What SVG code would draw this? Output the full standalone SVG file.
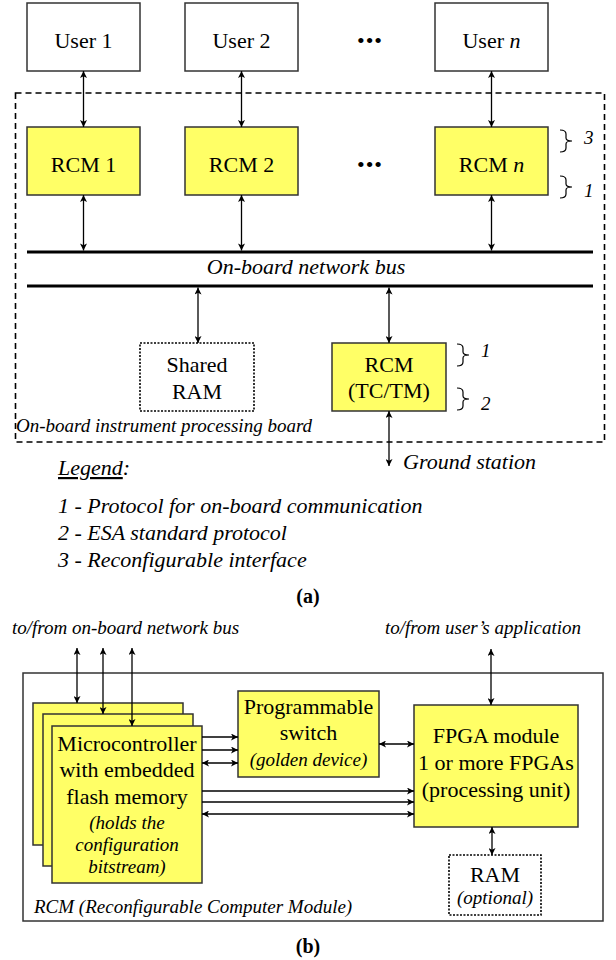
<svg xmlns="http://www.w3.org/2000/svg" width="616" height="960" viewBox="0 0 616 960">
<defs>
<marker id="ah" viewBox="0 0 10 10" refX="10" refY="5" markerWidth="8" markerHeight="7" markerUnits="userSpaceOnUse" orient="auto-start-reverse">
<path d="M0,0 L10,5 L0,10 L2.5,5 z" fill="#000"/>
</marker>
<style>
text{font-family:"Liberation Serif","Times New Roman",serif;fill:#000}
.t{font-size:22px;text-anchor:middle}
.i{font-size:19px;font-style:italic}
.ic{font-size:19px;font-style:italic;text-anchor:middle}
.w{fill:#fff;stroke:#333;stroke-width:1.5}
.y{fill:#ffff66;stroke:#333;stroke-width:1.5}
.dot{fill:#fff;stroke:#000;stroke-width:1.6;stroke-dasharray:2 1.5}
.c line{stroke:#000;stroke-width:1.3}
.bi{marker-start:url(#ah);marker-end:url(#ah)}
.one{marker-end:url(#ah)}
.br{fill:none;stroke:#000;stroke-width:1.2}
</style>
</defs>

<!-- Part (a) -->
<rect id="board" x="15.5" y="93" width="589" height="349" fill="none" stroke="#000" stroke-width="1.6" stroke-dasharray="6 4"/>

<g id="user1"><rect class="w" x="27" y="3" width="113" height="68"/><text class="t" x="83.5" y="48">User 1</text></g>
<g id="user2"><rect class="w" x="185" y="3" width="113" height="68"/><text class="t" x="241.5" y="48">User 2</text></g>
<g id="dots1"><text class="t" x="370" y="48" letter-spacing="1">•••</text></g>
<g id="usern"><rect class="w" x="435" y="3" width="113" height="68"/><text class="t" x="491.5" y="48">User <tspan font-style="italic">n</tspan></text></g>

<g id="rcm1"><rect class="y" x="27" y="127" width="113" height="68"/><text class="t" x="83.5" y="172">RCM 1</text></g>
<g id="rcm2"><rect class="y" x="185" y="127" width="113" height="68"/><text class="t" x="241.5" y="172">RCM 2</text></g>
<g id="dots2"><text class="t" x="370" y="172" letter-spacing="1">•••</text></g>
<g id="rcmn"><rect class="y" x="435" y="127" width="113" height="68"/><text class="t" x="491.5" y="172">RCM <tspan font-style="italic">n</tspan></text></g>

<g id="bus">
<line x1="27" y1="252" x2="593" y2="252" stroke="#000" stroke-width="3"/>
<line x1="27" y1="286" x2="593" y2="286" stroke="#000" stroke-width="3"/>
<text x="306" y="274" font-size="22" font-style="italic" text-anchor="middle">On-board network bus</text>
</g>

<g id="sharedram"><rect class="dot" x="140" y="343" width="114" height="68"/><text class="t" x="197" y="372">Shared</text><text class="t" x="197" y="399">RAM</text></g>
<g id="rcmtctm"><rect class="y" x="332" y="343" width="114" height="68"/><text class="t" x="389" y="372">RCM</text><text class="t" x="389" y="398">(TC/TM)</text></g>

<g id="braces">
<path class="br" d="M560,130 Q566,130 566,134 L566,138 Q566,141 572,141 Q566,141 566,144 L566,148 Q566,152 560,152"/>
<text class="i" x="584" y="144">3</text>
<path class="br" d="M560,176 Q566,176 566,180 L566,184 Q566,187 572,187 Q566,187 566,190 L566,194 Q566,198 560,198"/>
<text class="i" x="584" y="197">1</text>
<path class="br" d="M457,344 Q463,344 463,348 L463,352 Q463,355 469,355 Q463,355 463,358 L463,362 Q463,366 457,366"/>
<text class="i" x="481" y="357">1</text>
<path class="br" d="M457,388 Q463,388 463,392 L463,396 Q463,399 469,399 Q463,399 463,402 L463,406 Q463,410 457,410"/>
<text class="i" x="481" y="410">2</text>
</g>

<text class="i" x="16" y="432">On-board instrument processing board</text>
<text x="403" y="469" font-size="22" font-style="italic">Ground station</text>

<g id="legend">
<text x="58" y="475" font-size="22" font-style="italic"><tspan text-decoration="underline">Legend</tspan>:</text>
<text x="58" y="513" font-size="22" font-style="italic">1 - Protocol for on-board communication</text>
<text x="58" y="540" font-size="22" font-style="italic">2 - ESA standard protocol</text>
<text x="58" y="567" font-size="22" font-style="italic">3 - Reconfigurable interface</text>
</g>
<text x="308" y="603" font-size="20" font-weight="bold" text-anchor="middle">(a)</text>

<!-- Part (b) -->
<text class="i" x="12" y="634">to/from on-board network bus</text>
<text class="i" x="385" y="634">to/from user’s application</text>

<rect id="rcmmodule" x="23" y="673" width="580" height="248" fill="#fff" stroke="#333" stroke-width="1.5"/>
<text class="i" x="34" y="913">RCM (Reconfigurable Computer Module)</text>

<g id="micro">
<rect class="y" x="33" y="703" width="150" height="142"/>
<rect class="y" x="43" y="714" width="150" height="152"/>
<rect class="y" x="52" y="726" width="150" height="157"/>
<text class="t" x="127" y="751">Microcontroller</text>
<text class="t" x="127" y="777">with embedded</text>
<text class="t" x="127" y="804">flash memory</text>
<text class="ic" x="127" y="829">(holds the</text>
<text class="ic" x="127" y="851">configuration</text>
<text class="ic" x="127" y="873">bitstream)</text>
</g>

<g id="switch">
<rect class="y" x="238" y="691" width="141" height="86"/>
<text class="t" x="308.5" y="714">Programmable</text>
<text class="t" x="308.5" y="740">switch</text>
<text class="ic" x="308.5" y="766">(golden device)</text>
</g>

<g id="fpga">
<rect class="y" x="414" y="705" width="164" height="122"/>
<text class="t" x="496" y="743">FPGA module</text>
<text class="t" x="496" y="770">1 or more FPGAs</text>
<text class="t" x="496" y="797">(processing unit)</text>
</g>

<g id="ram">
<rect class="dot" x="449" y="855" width="92" height="60"/>
<text class="t" x="495" y="882">RAM</text>
<text class="ic" x="495" y="904">(optional)</text>
</g>

<text x="308" y="953" font-size="20" font-weight="bold" text-anchor="middle">(b)</text>

<g id="connectors" class="c">
<line class="bi" x1="83.5" y1="71" x2="83.5" y2="127"/>
<line class="bi" x1="241.5" y1="71" x2="241.5" y2="127"/>
<line class="bi" x1="491.5" y1="71" x2="491.5" y2="127"/>
<line class="bi" x1="83.5" y1="195" x2="83.5" y2="250.5"/>
<line class="bi" x1="241.5" y1="195" x2="241.5" y2="250.5"/>
<line class="bi" x1="491.5" y1="195" x2="491.5" y2="250.5"/>
<line class="bi" x1="198" y1="287.5" x2="198" y2="343"/>
<line class="bi" x1="389" y1="287.5" x2="389" y2="343"/>
<line class="bi" x1="389" y1="411" x2="389" y2="466"/>

<line class="bi" x1="77" y1="648" x2="77" y2="703"/>
<line class="bi" x1="103" y1="648" x2="103" y2="714"/>
<line class="bi" x1="132" y1="648" x2="132" y2="726"/>
<line class="bi" x1="491" y1="649" x2="491" y2="705"/>
<line class="one" x1="202" y1="737" x2="238" y2="737"/>
<line class="one" x1="202" y1="750" x2="238" y2="750"/>
<line class="bi" x1="202" y1="763" x2="238" y2="763"/>
<line class="bi" x1="379" y1="744" x2="414" y2="744"/>
<line class="one" x1="202" y1="791" x2="414" y2="791"/>
<line class="one" x1="202" y1="802" x2="414" y2="802"/>
<line class="bi" x1="202" y1="814" x2="414" y2="814"/>
<line class="bi" x1="492" y1="827" x2="492" y2="855"/>
</g>
</svg>
